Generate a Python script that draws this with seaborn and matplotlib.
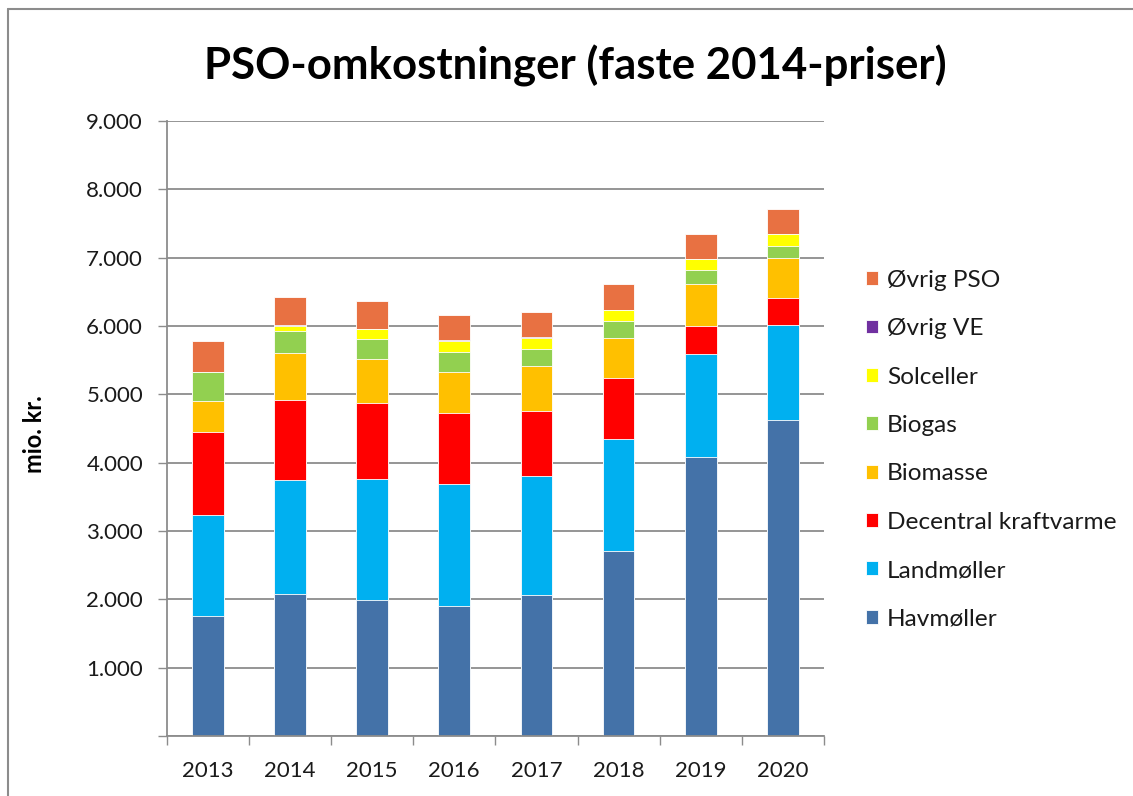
import matplotlib
matplotlib.use("Agg")
import matplotlib.pyplot as plt
import seaborn as sns
import numpy as np
import pandas as pd
from matplotlib.lines import Line2D

years = ["2013", "2014", "2015", "2016", "2017", "2018", "2019", "2020"]
havmoller = [1759, 2084, 1990, 1897, 2064, 2714, 4078, 4626]
landmoller = [1477, 1664, 1777, 1792, 1737, 1626, 1514, 1393]
decentral = [1220, 1174, 1102, 1044, 951, 898, 408, 394]
biomasse = [442, 690, 650, 597, 656, 592, 617, 577]
biogas = [427, 315, 297, 296, 257, 243, 207, 186]
solceller = [0, 75, 145, 156, 165, 165, 161, 172]
ovrig_ve = [0, 10, 0, 14, 15, 0, 0, 0]
ovrig_pso = [452, 415, 408, 369, 364, 383, 368, 363]

series_names = ["Havmøller", "Landmøller", "Decentral kraftvarme", "Biomasse",
                "Biogas", "Solceller", "Øvrig VE", "Øvrig PSO"]
series_values = [havmoller, landmoller, decentral, biomasse, biogas,
                 solceller, ovrig_ve, ovrig_pso]
series_colors = ["#4472A8", "#00B0F0", "#FF0000", "#FFC000",
                 "#92D050", "#FFFF00", "#7030A0", "#E87142"]

yticks = [0, 1000, 2000, 3000, 4000, 5000, 6000, 7000, 8000, 9000]
ytick_labels = ["", "1.000", "2.000", "3.000", "4.000", "5.000",
                "6.000", "7.000", "8.000", "9.000"]

title = "PSO-omkostninger (faste 2014-priser)"
ylabel = "mio. kr."

sns.set_theme(style="white")
plt.rcParams["font.family"] = ["Lato", "DejaVu Sans"]

W, H = 1133, 796
fig = plt.figure(figsize=(W / 100, H / 100), dpi=100)
ax = fig.add_axes([166.7 / W, 1 - 736 / H, (824 - 166.7) / W, (736 - 121) / H])

cum = np.zeros(len(years))
cums = []
for vals in series_values:
    cum = cum + np.array(vals, dtype=float)
    cums.append(cum.copy())

# draw cumulative totals from the top layer downward
for name, color, c in reversed(list(zip(series_names, series_colors, cums))):
    d = pd.DataFrame({"year": years, "value": c})
    sns.barplot(data=d, x="year", y="value", color=color, width=0.385,
                saturation=1, ax=ax, label=name, edgecolor="white",
                linewidth=0.6, zorder=3)

handles, labels = ax.get_legend_handles_labels()
if ax.get_legend() is not None:
    ax.get_legend().remove()

ax.set_ylim(0, 9000)
ax.set_xlim(-0.5, len(years) - 0.5)
ax.set_yticks(yticks)
ax.set_yticklabels(ytick_labels)
ax.set_xlabel("")
ax.set_ylabel("")
ax.yaxis.grid(True, color="#8c8c8c", linewidth=1.3, zorder=0)
ax.xaxis.grid(False)
ax.set_axisbelow(True)
for s in ["top", "right"]:
    ax.spines[s].set_visible(False)
for s in ["left", "bottom"]:
    ax.spines[s].set_color("#8c8c8c")
    ax.spines[s].set_linewidth(1.3)
    ax.spines[s].set_zorder(4)

ax.tick_params(axis="y", which="major", length=6.5, width=1.0, color="#8c8c8c",
               labelsize=16, pad=10.5, labelcolor="#1a1a1a", left=True)
ax.set_xticks(np.arange(-0.5, len(years), 1.0), minor=True)
ax.tick_params(axis="x", which="minor", length=6.5, width=1.0, color="#8c8c8c",
               bottom=True)
ax.tick_params(axis="x", which="major", length=0, labelsize=16, pad=18,
               labelcolor="#1a1a1a")

fig.text(575 / W, 1 - 66 / H, title, ha="center", va="center",
         fontsize=31.5, fontweight="bold", color="black")
fig.text(35 / W, 1 - 434 / H, ylabel, ha="center", va="center", rotation=90,
         fontsize=17, fontweight="bold", color="black")

leg = fig.legend(handles, labels, loc="upper left",
                 bbox_to_anchor=(856 / W, 1 - 260 / H), frameon=False,
                 fontsize=17.6, handlelength=0.5, handleheight=0.5,
                 handletextpad=0.37, labelspacing=1.12, borderaxespad=0)
for t in leg.get_texts():
    t.set_color("#1a1a1a")

fig.add_artist(Line2D([8 / W, 8 / W], [0, 1 - 9 / H], transform=fig.transFigure,
                      color="#8c8c8c", linewidth=1.5))
fig.add_artist(Line2D([8 / W, 1.0], [1 - 9 / H, 1 - 9 / H],
                      transform=fig.transFigure, color="#8c8c8c", linewidth=1.5))

fig.savefig("out.png", dpi=100, facecolor="white", edgecolor="none")
